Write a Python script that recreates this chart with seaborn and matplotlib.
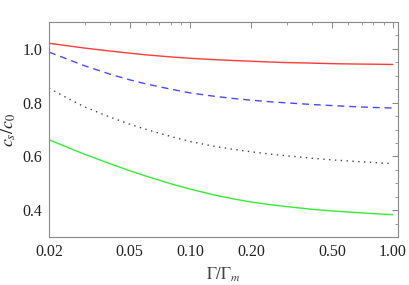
import numpy as np
import pandas as pd
import matplotlib
matplotlib.use("Agg")
import matplotlib.pyplot as plt
import seaborn as sns
from matplotlib.ticker import FixedLocator, NullFormatter, FixedFormatter

gamma = [0.02, 0.025, 0.03, 0.04, 0.05, 0.06, 0.08, 0.10, 0.13, 0.16,
         0.20, 0.25, 0.30, 0.40, 0.50, 0.60, 0.80, 1.00]
red_vals = [1.021, 1.011, 1.003, 0.992, 0.984, 0.978, 0.970, 0.965, 0.960, 0.957,
            0.954, 0.951, 0.949, 0.947, 0.945, 0.944, 0.943, 0.942]
blue_vals = [0.988, 0.960, 0.937, 0.906, 0.885, 0.870, 0.850, 0.836, 0.824, 0.816,
             0.809, 0.803, 0.799, 0.793, 0.789, 0.786, 0.782, 0.780]
dot_vals = [0.854, 0.814, 0.784, 0.746, 0.720, 0.701, 0.674, 0.655, 0.638, 0.627,
            0.617, 0.608, 0.602, 0.593, 0.587, 0.583, 0.577, 0.573]
green_vals = [0.662, 0.632, 0.608, 0.573, 0.547, 0.527, 0.498, 0.478, 0.457, 0.443,
              0.430, 0.420, 0.413, 0.403, 0.397, 0.393, 0.387, 0.383]

x_major = [0.02, 0.05, 0.10, 0.20, 0.50, 1.00]
x_major_labels = ["0.02", "0.05", "0.10", "0.20", "0.50", "1.00"]
x_minor = [0.03, 0.04, 0.06, 0.07, 0.08, 0.09, 0.3, 0.4, 0.6, 0.7, 0.8, 0.9]
y_major = [0.4, 0.6, 0.8, 1.0]
y_major_labels = ["0.4", "0.6", "0.8", "1.0"]

sns.set_theme(style="white")
plt.rcParams["font.family"] = ["Liberation Serif", "DejaVu Serif"]
plt.rcParams["mathtext.fontset"] = "stix"

fig = plt.figure(figsize=(4.09, 2.85), dpi=100)
ax = fig.add_axes([49/409, 1-237/285, (398-49)/409, (237-22)/285])

series = [
    (red_vals, "#ff3b3b", None),
    (blue_vals, "#4a4aff", (0, (5, 3.5))),
    (dot_vals, "#444444", (0, (1, 3.2))),
    (green_vals, "#33ee33", None),
]
for vals, col, ls in series:
    df = pd.DataFrame({"g": gamma, "v": vals})
    sns.lineplot(data=df, x="g", y="v", ax=ax, color=col, lw=1.0, legend=False)
    if ls is not None:
        ax.lines[-1].set_linestyle(ls)

ax.set_xscale("log")
ax.set_xlim(0.02, 1.06)
ax.set_ylim(0.3, 1.1)

ax.xaxis.set_major_locator(FixedLocator(x_major))
ax.xaxis.set_major_formatter(FixedFormatter(x_major_labels))
ax.xaxis.set_minor_locator(FixedLocator(x_minor))
ax.xaxis.set_minor_formatter(NullFormatter())
ax.yaxis.set_major_locator(FixedLocator(y_major))
ax.yaxis.set_major_formatter(FixedFormatter(y_major_labels))
ax.yaxis.set_minor_locator(FixedLocator(np.arange(0.3, 1.1001, 0.05)))

for s in ax.spines.values():
    s.set_color("#888888")
    s.set_linewidth(0.8)
ax.tick_params(which="both", direction="in", top=True, right=True, color="#888888",
               labelsize=11.5, labelcolor="#222222", pad=5)
ax.tick_params(which="major", length=4, width=0.7)
ax.tick_params(which="minor", length=2.2, width=0.6)

ax.set_xlabel(r"$\Gamma/\Gamma_m$", fontsize=12, color="#444444", labelpad=4)
ax.set_ylabel(r"$c_s/c_0$", fontsize=13, color="#222222", labelpad=3)

fig.savefig("out.png", dpi=100)
